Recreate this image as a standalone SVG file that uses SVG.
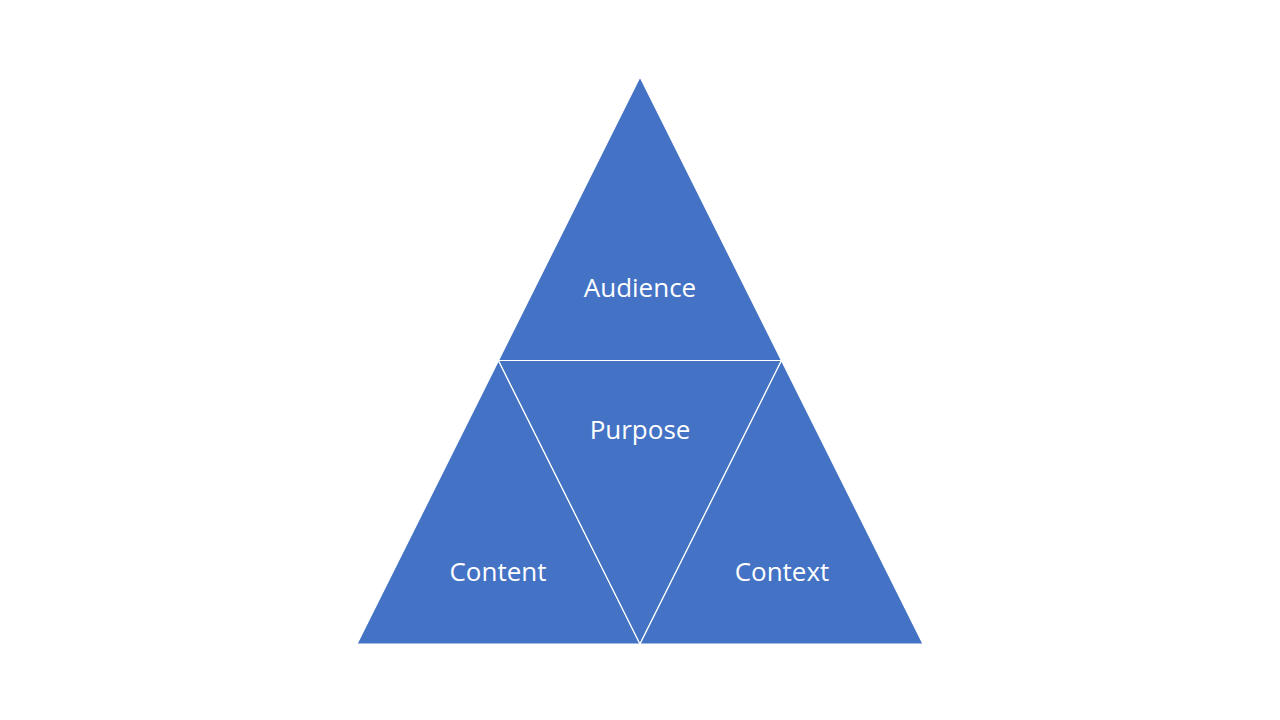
<svg xmlns="http://www.w3.org/2000/svg" width="1280" height="720" viewBox="0 0 1280 720">
<style>
.tri{fill:#4472C4;stroke:#FFFFFF;stroke-width:1.2;stroke-linejoin:miter}
.lbl{font-family:"Open Sans","Liberation Sans",sans-serif;font-size:26px;fill:#FFFFFF;text-anchor:middle}
</style>
<rect width="1280" height="720" fill="#FFFFFF"/>
<g id="audience">
<polygon class="tri" points="640,77 498.5,360.5 781.5,360.5"/>
<text class="lbl" x="640" y="297">Audience</text>
</g>
<g id="content">
<polygon class="tri" points="498.5,360.5 357,644 640,644"/>
<text class="lbl" x="498" y="581">Content</text>
</g>
<g id="purpose">
<polygon class="tri" points="498.5,360.5 781.5,360.5 640,644"/>
<text class="lbl" x="640" y="439">Purpose</text>
</g>
<g id="context">
<polygon class="tri" points="781.5,360.5 640,644 923,644"/>
<text class="lbl" x="782" y="581">Context</text>
</g>
<g id="connectors"></g>
</svg>
